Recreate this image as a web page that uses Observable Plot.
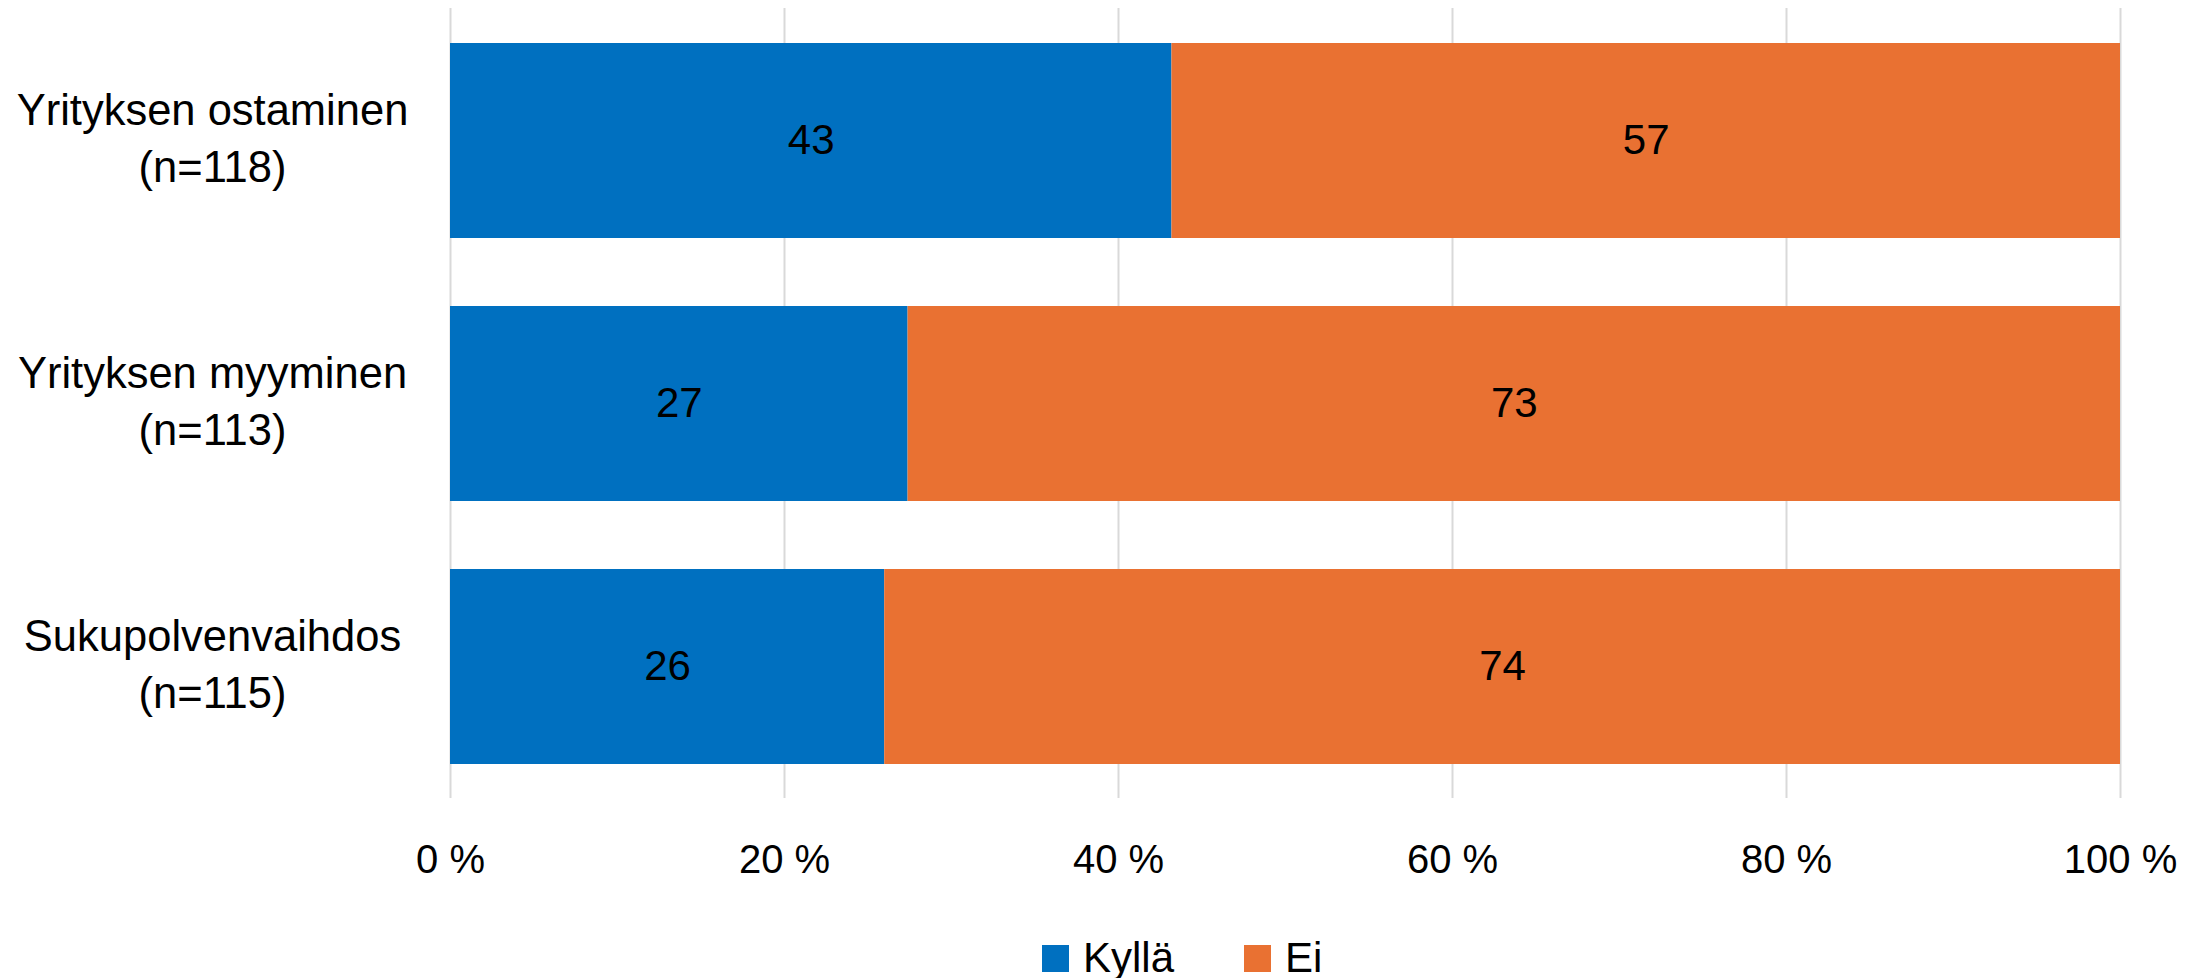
<!DOCTYPE html>
<html>
<head>
<meta charset="utf-8">
<script src="https://cdn.jsdelivr.net/npm/d3@7"></script>
<script src="https://cdn.jsdelivr.net/npm/@observablehq/plot@0.6"></script>
<style>
  html, body { margin: 0; padding: 0; background: #fff; }
  #wrap { position: relative; width: 2206px; height: 978px; font-family: "Liberation Sans", Arial, sans-serif; }
  #legend { position: absolute; left: 1042px; top: 934px; display: flex; align-items: center; font-size: 42px; color: #000; }
  .item { display: flex; align-items: center; margin-right: 70px; }
  .sw { width: 27px; height: 27px; margin-right: 14px; }
</style>
</head>
<body>
<div id="wrap"><div id="chart"></div><div id="legend"></div></div>
<script>
const categories = ["Yrityksen ostaminen", "Yrityksen myyminen", "Sukupolvenvaihdos"];
const sampleSizes = [118, 113, 115];
const seriesNames = ["Kyllä", "Ei"];
const kylla = [43.2, 27.4, 26.0];
const ei = [56.8, 72.6, 74.0];
const seriesColors = ["#0070C0", "#E97132"];
const xTicks = [0, 20, 40, 60, 80, 100];

const labels = categories.map((c, i) => `${c}\n(n=${sampleSizes[i]})`);
const rows = [];
categories.forEach((c, i) => {
  rows.push({cat: labels[i], series: seriesNames[0], value: kylla[i]});
  rows.push({cat: labels[i], series: seriesNames[1], value: ei[i]});
});

const chart = Plot.plot({
  width: 2206,
  height: 934,
  marginLeft: 450,
  marginRight: 86,
  marginTop: 8,
  marginBottom: 136,
  style: {fontFamily: '"Liberation Sans", Arial, sans-serif', fontSize: "42px", color: "#000", background: "#fff"},
  x: {domain: [0, 100], ticks: xTicks, tickFormat: d => `${d} %`, tickSize: 0, tickPadding: 45, label: null},
  y: {domain: labels, paddingInner: 0.26, paddingOuter: 0.13, axis: null},
  color: {domain: seriesNames, range: seriesColors},
  marks: [
    Plot.gridX(xTicks, {stroke: "#D9D9D9", strokeOpacity: 1, strokeWidth: 2}),
    Plot.barX(rows, Plot.stackX({x: "value", y: "cat", fill: "series", order: seriesNames})),
    Plot.text(rows, Plot.stackX({x: "value", y: "cat", z: "series", order: seriesNames, text: d => Math.round(d.value), fill: "#000", fontSize: 42})),
    Plot.text(labels, {y: d => d, text: d => d, frameAnchor: "left", dx: -238, dy: -6, textAnchor: "middle", lineHeight: 1.33, fontSize: 43.5, fill: "#000"}),
    Plot.axisX({ticks: xTicks, tickFormat: d => `${d} %`, tickSize: 0, tickPadding: 46, label: null, fontSize: 40})
  ]
});
document.getElementById("chart").appendChild(chart);

const legend = document.getElementById("legend");
seriesNames.forEach((s, i) => {
  const item = document.createElement("div");
  item.className = "item";
  const sw = document.createElement("div");
  sw.className = "sw";
  sw.style.background = seriesColors[i];
  const t = document.createElement("span");
  t.textContent = s;
  item.appendChild(sw);
  item.appendChild(t);
  legend.appendChild(item);
});
</script>
</body>
</html>
